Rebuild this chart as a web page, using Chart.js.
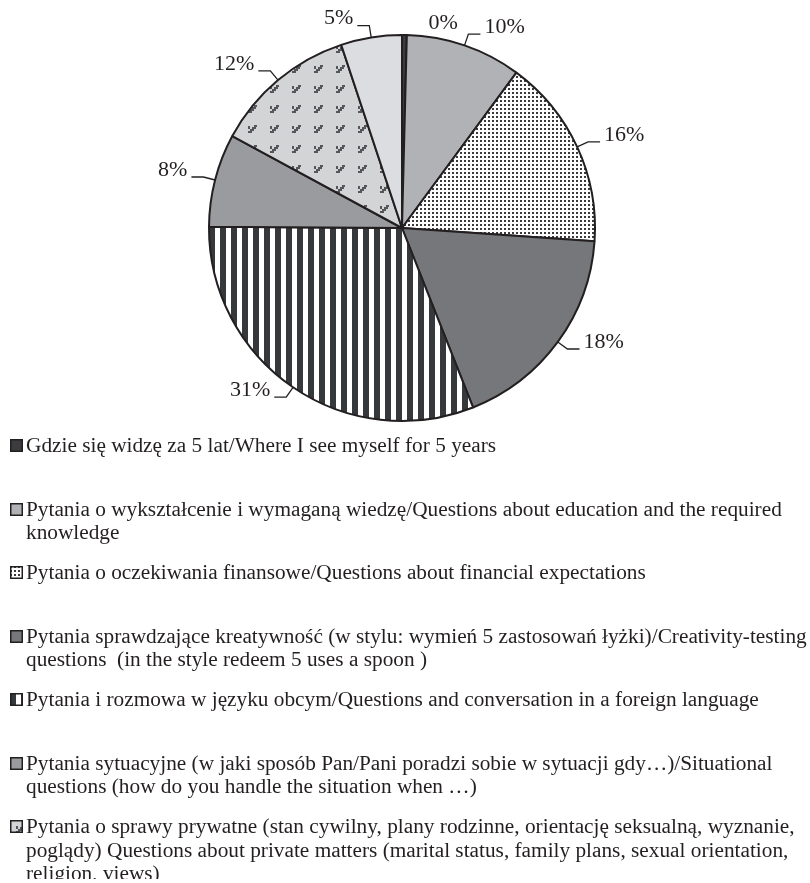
<!DOCTYPE html>
<html>
<head>
<meta charset="utf-8">
<script src="https://cdn.jsdelivr.net/npm/chart.js@4.4.1/dist/chart.umd.min.js"></script>
<style>
  body { margin: 0; background: #fff; width: 810px; font-family: "Liberation Serif", "Times New Roman", serif; color: #231f20; }
  #wrap { position: relative; width: 810px; height: 434px; }
  #legend { padding-left: 10px; }
  .item { position: relative; height: 63.5px; }
  .item canvas { position: absolute; left: 0; top: 5px; }
  .item span { display: block; margin-left: 16px; font-size: 21.3px; line-height: 23.5px; white-space: pre-wrap; }
</style>
</head>
<body>
<div id="wrap"><canvas id="pie" width="810" height="434"></canvas></div>
<div id="legend"></div>
<script>
// Categories (the last slice has no legend entry in the source)
const categories = [
  "Gdzie się widzę za 5 lat/Where I see myself for 5 years",
  "Pytania o wykształcenie i wymaganą wiedzę/Questions about education and the required knowledge",
  "Pytania o oczekiwania finansowe/Questions about financial expectations",
  "Pytania sprawdzające kreatywność (w stylu: wymień 5 zastosowań łyżki)/Creativity-testing questions  (in the style redeem 5 uses a spoon )",
  "Pytania i rozmowa w języku obcym/Questions and conversation in a foreign language",
  "Pytania sytuacyjne (w jaki sposób Pan/Pani poradzi sobie w sytuacji gdy…)/Situational questions (how do you handle the situation when …)",
  "Pytania o sprawy prywatne (stan cywilny, plany rodzinne, orientację seksualną, wyznanie, poglądy) Questions about private matters (marital status, family plans, sexual orientation, religion, views)",
  ""
];
const values = [0.4, 9.7, 16.0, 17.9, 31.1, 7.8, 12.0, 5.1];
const pctLabels = ["0%", "10%", "16%", "18%", "31%", "8%", "12%", "5%"];

const INK = "#231f20";

// pattern tiles
function tile(w, h, draw) {
  const c = document.createElement("canvas");
  c.width = w; c.height = h;
  draw(c.getContext("2d"));
  return c;
}
const dotsTile = tile(4, 4, (g) => {
  g.fillStyle = "#fff"; g.fillRect(0, 0, 4, 4);
  g.fillStyle = "#3a3a3a"; g.fillRect(0, 0, 2, 2);
});
const stripesTile = tile(11, 4, (g) => {
  g.fillStyle = "#fff"; g.fillRect(0, 0, 11, 4);
  g.fillStyle = "#36393c"; g.fillRect(0, 0, 6, 4);
});
const stairsTile = tile(22, 20, (g) => {
  g.fillStyle = "#d3d4d6"; g.fillRect(0, 0, 22, 20);
  g.fillStyle = "#55565a";
  g.fillRect(6, 6, 2, 3);
  g.fillRect(12, 5, 3, 2);
  g.fillRect(10, 7, 4, 2);
  g.fillRect(8, 9, 4, 2);
  g.fillRect(6, 11, 4, 2);
});

const ctx0 = document.getElementById("pie").getContext("2d");
const fills = [
  "#3c3c3e",
  "#b1b2b5",
  ctx0.createPattern(dotsTile, "repeat"),
  "#76777a",
  ctx0.createPattern(stripesTile, "repeat"),
  "#9a9b9e",
  ctx0.createPattern(stairsTile, "repeat"),
  "#dcdde0"
];

const labelPlugin = {
  id: "pctLabels",
  afterDraw(chart) {
    const ctx = chart.ctx;
    const meta = chart.getDatasetMeta(0);
    ctx.save();
    ctx.font = "22px 'Liberation Serif'";
    ctx.fillStyle = INK;
    ctx.strokeStyle = INK;
    ctx.lineWidth = 1.3;
    ctx.textBaseline = "middle";
    meta.data.forEach((arc, i) => {
      const { x, y, startAngle, endAngle, outerRadius } =
        arc.getProps(["x", "y", "startAngle", "endAngle", "outerRadius"], true);
      const mid = (startAngle + endAngle) / 2;
      const dx = Math.cos(mid), dy = Math.sin(mid);
      const px = x + dx * outerRadius, py = y + dy * outerRadius;
      if (values[i] < 1) {
        // tiny slice: label just beside it, no leader
        ctx.textAlign = "left";
        ctx.fillText(pctLabels[i], px + 24, py - 12);
        return;
      }
      const ex = px + dx * 12, ey = py + dy * 12;
      const side = dx >= 0 ? 1 : -1;
      const hx = ex + side * 12;
      ctx.beginPath();
      ctx.moveTo(px, py);
      ctx.lineTo(ex, ey);
      ctx.lineTo(hx, ey);
      ctx.stroke();
      ctx.textAlign = side > 0 ? "left" : "right";
      ctx.fillText(pctLabels[i], hx + side * 4, ey - 7);
    });
    ctx.restore();
  }
};

new Chart(ctx0, {
  type: "pie",
  data: {
    labels: categories,
    datasets: [{
      data: values,
      backgroundColor: fills,
      borderColor: INK,
      borderWidth: 2
    }]
  },
  options: {
    responsive: false,
    animation: false,
    devicePixelRatio: 1,
    layout: { padding: { top: 34, bottom: 12, left: 0, right: 6 } },
    plugins: { legend: { display: false }, tooltip: { enabled: false } }
  },
  plugins: [labelPlugin]
});

// HTML legend
const legend = document.getElementById("legend");
categories.forEach((name, i) => {
  if (!name) return;
  const item = document.createElement("div");
  item.className = "item";
  const m = document.createElement("canvas");
  m.width = 13; m.height = 13;
  const g = m.getContext("2d");
  g.fillStyle = fills[i];
  g.fillRect(0, 0, 13, 13);
  g.strokeStyle = INK;
  g.lineWidth = 1.5;
  g.strokeRect(0.75, 0.75, 11.5, 11.5);
  const s = document.createElement("span");
  s.textContent = name;
  item.appendChild(m);
  item.appendChild(s);
  legend.appendChild(item);
});
</script>
</body>
</html>
